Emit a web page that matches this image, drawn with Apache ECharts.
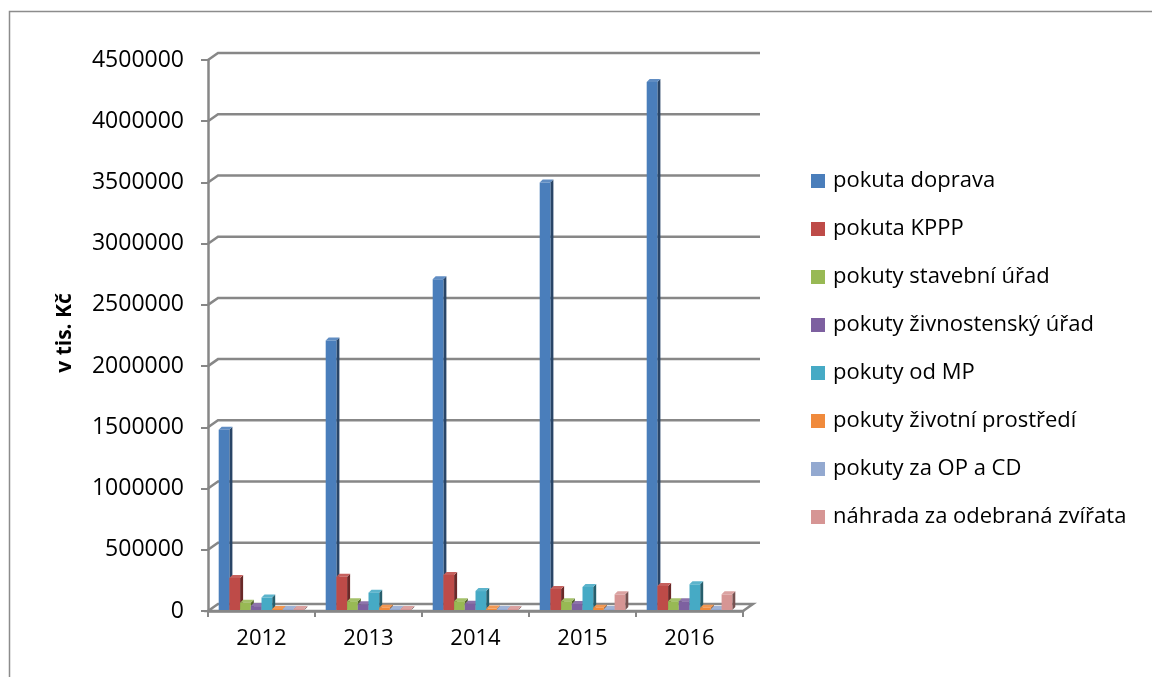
<!DOCTYPE html>
<html><head><meta charset="utf-8">
<script src="https://cdn.jsdelivr.net/npm/echarts@6/dist/echarts.min.js"></script>
<style>html,body{margin:0;padding:0;background:#fff}#c{width:1152px;height:677px}</style>
</head><body><div id="c"></div>
<script>
const categories = ['2012', '2013', '2014', '2015', '2016'];
const seriesNames = ['pokuta doprava', 'pokuta KPPP', 'pokuty stavební úřad', 'pokuty živnostenský úřad',
  'pokuty od MP', 'pokuty životní prostředí', 'pokuty za OP a CD', 'náhrada za odebraná zvířata'];
const pokutaDoprava = [1480000, 2210000, 2710000, 3500000, 4320000];
const pokutaKPPP = [270000, 280000, 295000, 180000, 205000];
const pokutyStavebni = [68000, 80000, 80000, 80000, 80000];
const pokutyZivnostensky = [40000, 55000, 60000, 57000, 80000];
const pokutyMP = [110000, 150000, 163000, 196000, 218000];
const pokutyZivotni = [15000, 27000, 20000, 27000, 27000];
const pokutyOPCD = [5000, 5000, 5000, 5000, 5000];
const nahradaZvirata = [5000, 5000, 5000, 136000, 136000];
const yTicks = [0, 500000, 1000000, 1500000, 2000000, 2500000, 3000000, 3500000, 4000000, 4500000];

const seriesValues = [pokutaDoprava, pokutaKPPP, pokutyStavebni, pokutyZivnostensky,
  pokutyMP, pokutyZivotni, pokutyOPCD, nahradaZvirata];
const colors = ['#4A7EBB', '#BE4B48', '#98B954', '#7D60A0', '#46AAC5', '#F08A3C', '#93A9D0', '#D69594'];

function shade(hex, f) {
  const n = parseInt(hex.slice(1), 16);
  let r = (n >> 16) & 255, g = (n >> 8) & 255, b = n & 255;
  if (f < 0) { r *= (1 + f); g *= (1 + f); b *= (1 + f); }
  else { r += (255 - r) * f; g += (255 - g) * f; b += (255 - b) * f; }
  return 'rgb(' + Math.round(r) + ',' + Math.round(g) + ',' + Math.round(b) + ')';
}

const FONT = '"Open Sans", sans-serif';
const DX = 3, DY = 3;
const GRID_COLOR = '#878787';

function barRender(si, color) {
  return function (params, api) {
    const idx = api.value(0), val = api.value(1);
    const top = api.coord([idx, val]);
    const base = api.coord([idx, 0]);
    const band = api.size([1, 0])[0];
    const w = band * 0.8 / 8;
    const x = top[0] - 4 * w + si * w;
    const yT = top[1], yB = base[1] - 1;
    const h = Math.max(yB - yT, 1);
    return {
      type: 'group',
      children: [
        { type: 'polygon', shape: { points: [[x + w, yB - h], [x + w + DX, yB - h - DY], [x + w + DX, yB - DY], [x + w, yB]] },
          style: { fill: shade(color, -0.45) } },
        { type: 'polygon', shape: { points: [[x, yB - h], [x + DX, yB - h - DY], [x + w + DX, yB - h - DY], [x + w, yB - h]] },
          style: { fill: shade(color, 0.12) } },
        { type: 'rect', shape: { x: x, y: yB - h, width: w, height: h }, style: { fill: color } }
      ]
    };
  };
}

function gridRender(params, api) {
  const v = api.value(1);
  const cs = params.coordSys;
  const y = api.coord([0, v])[1];
  const x0 = cs.x, right = cs.x + cs.width;
  if (v === 0) {
    return { type: 'polygon', shape: { points: [[x0, y], [x0 + 10, y - 7], [right + 10, y - 7], [right, y]] },
      style: { fill: 'none', stroke: GRID_COLOR, lineWidth: 2.5 } };
  }
  return { type: 'polyline', shape: { points: [[x0, y], [x0 + 10, y - 7], [right + 17, y - 7]] },
    style: { fill: 'none', stroke: GRID_COLOR, lineWidth: 2.5 } };
}

const series = [{
  type: 'custom', name: '_grid', silent: true, z: 1, clip: false,
  renderItem: gridRender,
  data: yTicks.map(v => [0, v]),
  encode: { x: 0, y: 1 }
}];
seriesValues.forEach((vals, si) => {
  series.push({
    type: 'custom', name: seriesNames[si], z: 3, clip: false,
    itemStyle: { color: colors[si] },
    renderItem: barRender(si, colors[si]),
    data: vals.map((v, i) => [i, v]),
    encode: { x: 0, y: 1 }
  });
});

const chart = echarts.init(document.getElementById('c'), null, { renderer: 'canvas' });
chart.setOption({
  animation: false,
  backgroundColor: '#fff',
  grid: { left: 208, top: 60, width: 535, height: 551 },
  xAxis: {
    type: 'category', data: categories,
    axisLine: { lineStyle: { color: GRID_COLOR, width: 2.5 } },
    axisTick: { show: true, length: 6, lineStyle: { color: GRID_COLOR, width: 2 } },
    axisLabel: { color: '#000', fontSize: 22, fontFamily: FONT, margin: 17 },
    splitLine: { show: false }
  },
  yAxis: {
    type: 'value', min: 0, max: 4500000, interval: 500000,
    axisLine: { show: true, lineStyle: { color: GRID_COLOR, width: 2.5 } },
    axisTick: { show: true, length: 7, lineStyle: { color: GRID_COLOR, width: 2 } },
    axisLabel: { color: '#000', fontSize: 23, fontFamily: FONT, margin: 24, formatter: v => String(v) },
    splitLine: { show: false }
  },
  legend: {
    orient: 'vertical', left: 806, top: 164,
    data: seriesNames, icon: 'rect',
    itemWidth: 14, itemHeight: 14, itemGap: 24,
    textStyle: { color: '#000', fontSize: 22, fontFamily: FONT, lineHeight: 24, padding: [0, 0, 0, 3] }
  },
  graphic: [
    { type: 'rect', shape: { x: 9.5, y: 11.5, width: 1200, height: 720 },
      style: { fill: 'none', stroke: '#8c8c8c', lineWidth: 1.5 }, silent: true },
    { type: 'text', x: 65, y: 333, rotation: Math.PI / 2,
      style: { text: 'v tis. Kč', fill: '#000', font: 'bold 21px "Open Sans", sans-serif', align: 'center', verticalAlign: 'middle' } }
  ],
  series: series
});
</script></body></html>
